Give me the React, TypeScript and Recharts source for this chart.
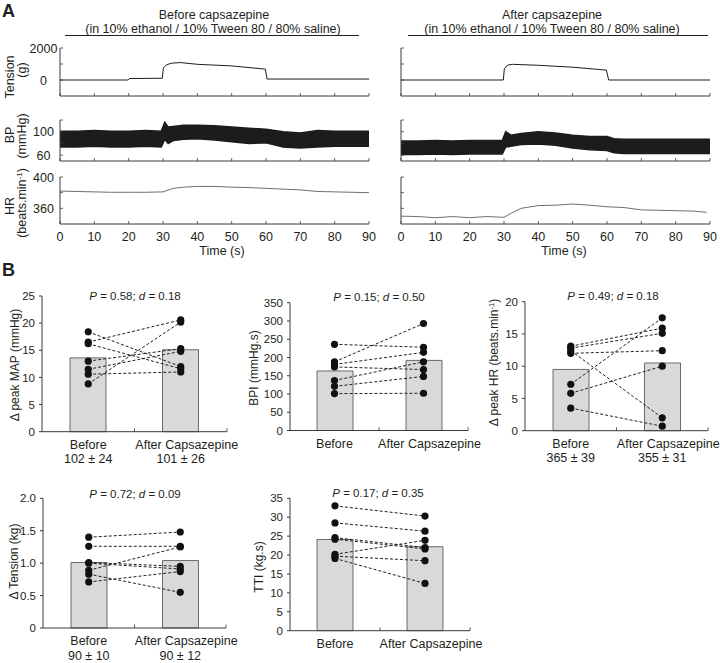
import React from "react";
import { ComposedChart, Line, Area, Bar, XAxis, YAxis } from "recharts";

const W = 720;
const H = 663;
const FONT = '"Liberation Sans", Arial, Helvetica, sans-serif';
const INK = "#231f20";
const AXIS = "#3a3a3a";
const TRACE = "#1c1c1c";

// ---------- Panel A: raw traces (time in s) ----------
const timeTicks = [0, 10, 20, 30, 40, 50, 60, 70, 80, 90];

const tensionBeforeTime = [0, 19.8, 20.2, 29.8, 30.1, 31, 32.5, 35, 40, 50, 59.8, 60.3, 90];
const tensionBeforeG = [0, 0, 90, 110, 750, 950, 1050, 1090, 980, 880, 680, 60, 60];
const tensionAfterTime = [0, 29.8, 30.1, 31, 32.5, 40, 50, 59.8, 60.5, 90];
const tensionAfterG = [0, 0, 700, 930, 980, 920, 800, 620, 0, 0];

const bpBeforeTime = [0, 5, 10, 15, 20, 25, 29.5, 30.5, 31.5, 33, 36, 40, 45, 50, 55, 60, 65, 70, 75, 80, 85, 90];
const bpBeforeHigh = [101, 101, 102, 101, 101, 102, 101, 116, 108, 109, 111, 111, 110, 108, 106, 104, 100, 98, 102, 101, 101, 101];
const bpBeforeLow = [74, 74, 75, 74, 74, 75, 74, 87, 80, 85, 87, 88, 86, 83, 80, 81, 74, 72, 74, 75, 75, 75];
const bpAfterTime = [0, 5, 10, 15, 20, 25, 29.5, 30.5, 32, 35, 40, 45, 50, 55, 60, 62, 65, 70, 75, 80, 85, 90];
const bpAfterHigh = [84, 84, 85, 84, 85, 85, 85, 100, 94, 97, 100, 98, 94, 92, 92, 88, 87, 87, 87, 87, 87, 87];
const bpAfterLow = [61, 61, 62, 61, 62, 62, 62, 74, 75, 78, 79, 77, 72, 69, 68, 64, 63, 63, 63, 63, 63, 63];

const hrBeforeTime = [0, 5, 10, 15, 20, 25, 30, 33, 36, 40, 45, 50, 55, 60, 65, 70, 75, 80, 85, 90];
const hrBeforeBpm = [382, 381.5, 381, 380.5, 380.5, 380.5, 381, 385.5, 387, 388, 388, 387, 386.5, 385.5, 384.5, 383.5, 381.5, 381, 380.5, 380];
const hrAfterTime = [0, 5, 10, 15, 20, 25, 30, 32, 35, 40, 45, 50, 55, 60, 65, 70, 75, 80, 85, 89];
const hrAfterBpm = [350, 349.5, 348, 349.5, 348, 349.5, 348.5, 353.5, 360, 363.5, 364, 365.5, 364, 362, 361, 358, 357.5, 357, 356.5, 355];

// ---------- Panel B: paired subjects ----------
const groups = ["Before", "After Capsazepine"];

const mapBefore = [18.4, 16.5, 16.2, 13.0, 11.5, 10.6, 8.8];
const mapAfter = [12.0, 20.6, 11.6, 15.3, 14.8, 11.0, 20.2];
const mapMeans = [13.6, 15.1];
const mapBaseline = ["102 ± 24", "101 ± 26"];

const bpiBefore = [236, 188, 181, 174, 137, 121, 101];
const bpiAfter = [228, 293, 214, 167, 188, 148, 102];
const bpiMeans = [163, 192];

const hrBefore = [13.1, 12.8, 12.4, 12.0, 7.2, 5.8, 3.5];
const hrAfter = [15.9, 15.1, 2.0, 12.4, 17.5, 10.0, 0.7];
const hrMeans = [9.5, 10.5];
const hrBaseline = ["365 ± 39", "355 ± 31"];

const tensionBefore = [1.40, 1.26, 1.01, 1.00, 0.89, 0.83, 0.71];
const tensionAfter = [1.48, 1.26, 0.95, 0.91, 1.25, 0.55, 0.87];
const tensionMeans = [1.01, 1.04];
const tensionBaseline = ["90 ± 10", "90 ± 12"];

const ttiBefore = [33.0, 28.5, 24.6, 24.2, 20.2, 19.7, 19.1];
const ttiAfter = [30.3, 26.3, 22.0, 21.6, 23.9, 18.5, 12.5];
const ttiMeans = [24.1, 22.2];

type Box = { x0: number; x1: number; y0: number; y1: number };

const layer: React.CSSProperties = { position: "absolute", left: 0, top: 0 };

// axes get a 1px box (a zero-size axis is not drawn), so the margins give that pixel back
function chartMargin(b: Box) {
  return { left: b.x0 - 1, right: W - b.x1, top: b.y0, bottom: H - b.y1 - 1 };
}

const timeTick = (withLabel: boolean) => (p: any) => (
  <g>
    <line x1={p.x} x2={p.x} y1={p.y} y2={p.y - 3} stroke={AXIS} strokeWidth={0.8} />
    {withLabel && (
      <text x={p.x} y={p.y + 17} textAnchor="middle" fontSize={12.5} fontFamily={FONT} fill={INK}>
        {p.payload.value}
      </text>
    )}
  </g>
);

const sideTick = (labels?: number[]) => (p: any) => (
  <g>
    <line x1={p.x} x2={p.x + 3} y1={p.y} y2={p.y} stroke={AXIS} strokeWidth={0.8} />
    {labels && labels.includes(p.payload.value) && (
      <text x={p.x - 16.5} y={p.y + 4.5} textAnchor="middle" fontSize={12.5} fontFamily={FONT} fill={INK}>
        {p.payload.value}
      </text>
    )}
  </g>
);

type TraceProps = {
  box: Box;
  data: any[];
  domain: [number, number];
  yTicks: number[];
  yLabels?: number[];
  timeLabels?: boolean;
  children: React.ReactNode;
};

function TracePanel({ box, data, domain, yTicks, yLabels, timeLabels, children }: TraceProps) {
  return (
    <div style={layer}>
      <ComposedChart width={W} height={H} data={data} margin={chartMargin(box)}>
        <XAxis
          dataKey="t"
          type="number"
          domain={[0, 90]}
          ticks={timeTicks}
          interval={0}
          height={1}
          tickSize={0}
          tickMargin={0}
          tickLine={false}
          axisLine={{ stroke: AXIS }}
          tick={timeTick(!!timeLabels)}
        />
        <YAxis
          type="number"
          domain={domain}
          ticks={yTicks}
          interval={0}
          width={1}
          tickSize={0}
          tickMargin={0}
          tickLine={false}
          axisLine={{ stroke: AXIS }}
          tick={sideTick(yLabels)}
        />
        {children}
      </ComposedChart>
    </div>
  );
}

type PairedProps = {
  box: Box;
  before: number[];
  after: number[];
  means: number[];
  domain: [number, number];
  ticks: number[];
  fmt?: (v: number) => string;
  sub?: string[];
};

function PairedPanel({ box, before, after, means, domain, ticks, fmt, sub }: PairedProps) {
  const rows = groups.map((g, gi) => {
    const row: any = { group: g, mean: means[gi] };
    before.forEach((v, i) => {
      row["s" + i] = gi === 0 ? v : after[i];
    });
    return row;
  });
  const band = (box.x1 - box.x0) / 2;
  const catTick = (p: any) => (
    <g>
      <line x1={p.x + band / 2} x2={p.x + band / 2} y1={p.y} y2={p.y - 3.5} stroke={AXIS} strokeWidth={0.8} />
      <text x={p.index === 1 ? p.x + 6 : p.x} y={p.y + 17} textAnchor="middle" fontSize={12.5} fontFamily={FONT} fill={INK}>
        {p.payload.value}
      </text>
      {sub && (
        <text x={p.x} y={p.y + 31.5} textAnchor="middle" fontSize={12.5} fontFamily={FONT} fill={INK}>
          {sub[p.index]}
        </text>
      )}
    </g>
  );
  return (
    <div style={layer}>
      <ComposedChart width={W} height={H} data={rows} margin={chartMargin(box)}>
        <XAxis
          dataKey="group"
          type="category"
          interval={0}
          height={1}
          tickSize={0}
          tickMargin={0}
          tickLine={false}
          axisLine={{ stroke: AXIS }}
          tick={catTick}
        />
        <YAxis
          type="number"
          domain={domain}
          ticks={ticks}
          interval={0}
          width={1}
          tickSize={3}
          tickMargin={4}
          tickLine={{ stroke: AXIS }}
          axisLine={{ stroke: AXIS }}
          tick={{ fontSize: 11.5, fill: INK, fontFamily: FONT }}
          tickFormatter={fmt}
        />
        <Bar dataKey="mean" barSize={36} fill="#d9d9d9" stroke="#6a6a6a" strokeWidth={1} isAnimationActive={false} />
        {before.map((_, i) => (
          <Line
            key={i}
            dataKey={"s" + i}
            type="linear"
            stroke="#222"
            strokeWidth={1}
            strokeDasharray="3 2"
            dot={{ r: 3.6, fill: "#111", stroke: "none" }}
            activeDot={false}
            isAnimationActive={false}
          />
        ))}
      </ComposedChart>
    </div>
  );
}

const leftTension = { x0: 60, x1: 369, y0: 48, y1: 96 };
const rightTension = { x0: 401, x1: 710, y0: 48, y1: 96 };
const leftBp = { x0: 60, x1: 369, y0: 120, y1: 161 };
const rightBp = { x0: 401, x1: 710, y0: 120, y1: 161 };
const leftHr = { x0: 60, x1: 369, y0: 177, y1: 224 };
const rightHr = { x0: 401, x1: 710, y0: 177, y1: 224 };

const tensionBeforeData = tensionBeforeTime.map((t, i) => ({ t, v: tensionBeforeG[i] }));
const tensionAfterData = tensionAfterTime.map((t, i) => ({ t, v: tensionAfterG[i] }));
const bpBeforeData = bpBeforeTime.map((t, i) => ({ t, band: [bpBeforeLow[i], bpBeforeHigh[i]] }));
const bpAfterData = bpAfterTime.map((t, i) => ({ t, band: [bpAfterLow[i], bpAfterHigh[i]] }));
const hrBeforeData = hrBeforeTime.map((t, i) => ({ t, v: hrBeforeBpm[i] }));
const hrAfterData = hrAfterTime.map((t, i) => ({ t, v: hrAfterBpm[i] }));

const tensionLine = <Line dataKey="v" type="linear" stroke={TRACE} strokeWidth={1} dot={false} activeDot={false} isAnimationActive={false} />;
const hrLine = <Line dataKey="v" type="linear" stroke="#4a4a4a" strokeWidth={0.8} dot={false} activeDot={false} isAnimationActive={false} />;
const bpArea = (
  <Area dataKey="band" type="linear" stroke={TRACE} strokeWidth={1.5} fill={TRACE} fillOpacity={1} dot={false} activeDot={false} isAnimationActive={false} />
);

const txt = { fontFamily: FONT, fill: INK } as const;

function RotLabel({ x, y, size, children }: { x: number; y: number; size: number; children: React.ReactNode }) {
  return (
    <text x={x} y={y} transform={`rotate(-90 ${x} ${y})`} textAnchor="middle" fontSize={size} {...txt}>
      {children}
    </text>
  );
}

function PLabel({ x, y, p, d }: { x: number; y: number; p: string; d: string }) {
  return (
    <text x={x} y={y} textAnchor="middle" fontSize={11.5} {...txt}>
      <tspan fontStyle="italic">P</tspan> = {p}; <tspan fontStyle="italic">d</tspan> = {d}
    </text>
  );
}

function Annotations() {
  return (
    <svg width={W} height={H} style={{ ...layer, pointerEvents: "none" }}>
      <text x={2} y={17} fontSize={18} fontWeight="bold" {...txt}>A</text>
      <text x={214} y={18.5} textAnchor="middle" fontSize={12.5} {...txt}>Before capsazepine</text>
      <text x={213} y={33} textAnchor="middle" fontSize={12.5} {...txt}>(in 10% ethanol / 10% Tween 80 / 80% saline)</text>
      <line x1={65} x2={359} y1={35.5} y2={35.5} stroke={INK} strokeWidth={1.2} />
      <text x={552} y={18.5} textAnchor="middle" fontSize={12.5} {...txt}>After capsazepine</text>
      <text x={552} y={33} textAnchor="middle" fontSize={12.5} {...txt}>(in 10% ethanol / 10% Tween 80 / 80% saline)</text>
      <line x1={408} x2={708} y1={35.5} y2={35.5} stroke={INK} strokeWidth={1.2} />

      <RotLabel x={14} y={77} size={12.5}>Tension</RotLabel>
      <RotLabel x={26} y={70} size={12.5}>(g)</RotLabel>
      <RotLabel x={14} y={135} size={12.5}>BP</RotLabel>
      <RotLabel x={26} y={136} size={12.5}>(mmHg)</RotLabel>
      <RotLabel x={14} y={206} size={12.5}>HR</RotLabel>
      <RotLabel x={26} y={203} size={12.5}>
        (beats.min<tspan dy={-4} fontSize={8}>-1</tspan><tspan dy={4}>)</tspan>
      </RotLabel>
      <text x={222} y={255} textAnchor="middle" fontSize={12.5} {...txt}>Time (s)</text>
      <text x={564} y={255} textAnchor="middle" fontSize={12.5} {...txt}>Time (s)</text>

      <text x={2} y={276} fontSize={18} fontWeight="bold" {...txt}>B</text>
      <PLabel x={135} y={300} p="0.58" d="0.18" />
      <PLabel x={379} y={301} p="0.15" d="0.50" />
      <PLabel x={613} y={300} p="0.49" d="0.18" />
      <PLabel x={135} y={497.5} p="0.72" d="0.09" />
      <PLabel x={378} y={496.5} p="0.17" d="0.35" />

      <RotLabel x={19} y={365} size={12}>Δ peak MAP (mmHg)</RotLabel>
      <RotLabel x={257.5} y={368} size={12}>BPI (mmHg.s)</RotLabel>
      <RotLabel x={497.5} y={362.5} size={12}>
        Δ peak HR (beats.min<tspan dy={-4} fontSize={7.5}>-1</tspan><tspan dy={4}>)</tspan>
      </RotLabel>
      <RotLabel x={17.5} y={561.5} size={12}>Δ Tension (kg)</RotLabel>
      <RotLabel x={262.5} y={567} size={12}>TTI (kg.s)</RotLabel>
    </svg>
  );
}

export default function App() {
  return (
    <div style={{ position: "absolute", left: 0, top: 0, width: W, height: H, background: "#fff", fontFamily: FONT }}>
      <TracePanel box={leftTension} data={tensionBeforeData} domain={[-1000, 2000]} yTicks={[0, 1000, 2000]} yLabels={[0, 2000]}>
        {tensionLine}
      </TracePanel>
      <TracePanel box={rightTension} data={tensionAfterData} domain={[-1000, 2000]} yTicks={[0, 1000, 2000]}>
        {tensionLine}
      </TracePanel>
      <TracePanel box={leftBp} data={bpBeforeData} domain={[50, 120]} yTicks={[60, 80, 100, 120]} yLabels={[60, 100]}>
        {bpArea}
      </TracePanel>
      <TracePanel box={rightBp} data={bpAfterData} domain={[50, 120]} yTicks={[60, 80, 100, 120]}>
        {bpArea}
      </TracePanel>
      <TracePanel box={leftHr} data={hrBeforeData} domain={[340, 400]} yTicks={[360, 380, 400]} yLabels={[360, 400]} timeLabels>
        {hrLine}
      </TracePanel>
      <TracePanel box={rightHr} data={hrAfterData} domain={[340, 400]} yTicks={[360, 380, 400]} timeLabels>
        {hrLine}
      </TracePanel>

      <PairedPanel
        box={{ x0: 42, x1: 227, y0: 296, y1: 431.7 }}
        before={mapBefore}
        after={mapAfter}
        means={mapMeans}
        domain={[0, 25]}
        ticks={[0, 5, 10, 15, 20, 25]}
        sub={mapBaseline}
      />
      <PairedPanel
        box={{ x0: 290, x1: 468, y0: 302.7, y1: 430.5 }}
        before={bpiBefore}
        after={bpiAfter}
        means={bpiMeans}
        domain={[0, 350]}
        ticks={[0, 50, 100, 150, 200, 250, 300, 350]}
      />
      <PairedPanel
        box={{ x0: 525, x1: 708, y0: 301.7, y1: 430.7 }}
        before={hrBefore}
        after={hrAfter}
        means={hrMeans}
        domain={[0, 20]}
        ticks={[0, 5, 10, 15, 20]}
        sub={hrBaseline}
      />
      <PairedPanel
        box={{ x0: 43, x1: 226, y0: 498.3, y1: 628 }}
        before={tensionBefore}
        after={tensionAfter}
        means={tensionMeans}
        domain={[0, 2]}
        ticks={[0, 0.5, 1, 1.5, 2]}
        fmt={(v) => (v === 0 ? "0" : v.toFixed(1))}
        sub={tensionBaseline}
      />
      <PairedPanel
        box={{ x0: 290, x1: 470, y0: 498.3, y1: 630.7 }}
        before={ttiBefore}
        after={ttiAfter}
        means={ttiMeans}
        domain={[0, 35]}
        ticks={[0, 5, 10, 15, 20, 25, 30, 35]}
      />

      <Annotations />
    </div>
  );
}
